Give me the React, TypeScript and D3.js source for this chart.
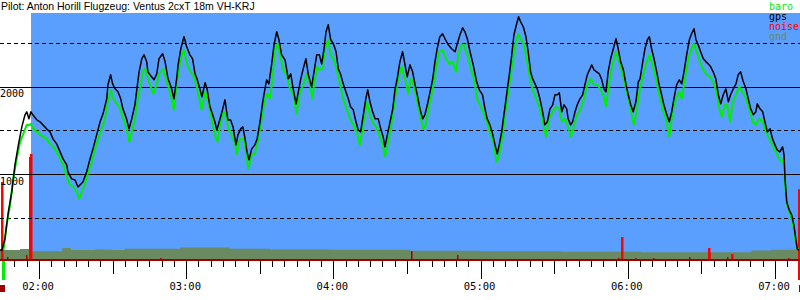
import React from "react";
import * as d3 from "d3";

// ---- data (time in minutes since midnight, altitude in metres) ----
const title = "Pilot: Anton Horill Flugzeug: Ventus 2cxT 18m VH-KRJ";
const legendLabels = ["baro", "gps", "noise", "gnd"];
const yLabelValues = [1000, 2000];
const solidGrid = [1000, 2000];
const dashedGrid = [500, 1500, 2500];
const hourLabels = ["02:00", "03:00", "04:00", "05:00", "06:00", "07:00"];
const hourTimes = [120, 180, 240, 300, 360, 420];
const timeStart = 104.1;
const timeEnd = 430.2;
const engineOffTime = 116.7;
const recordStart = 104.1;
const recordEnd = 429.9;
const takeoffTime = 105.5;
const landingTime = 429.7;

const gps: [number, number][] = [[104.1,136],[104.9,136],[106.1,263],[107.5,571],[108.9,799],[110.2,1107],[111.6,1336],[113.0,1541],[114.3,1679],[115.0,1713],[115.9,1633],[116.7,1713],[117.5,1679],[119.1,1621],[120.4,1599],[121.6,1564],[123.1,1519],[124.5,1484],[125.7,1404],[127.2,1347],[128.6,1256],[129.8,1176],[131.3,1107],[131.8,1027],[133.3,948],[134.7,936],[135.9,856],[136.7,879],[137.9,913],[139.4,1027],[140.8,1176],[142.0,1290],[143.5,1450],[144.9,1599],[146.1,1690],[147.6,1861],[148.1,2021],[149.2,2135],[150.0,2032],[151.0,1975],[152.2,1941],[153.3,1861],[154.2,1747],[155.7,1633],[156.7,1519],[157.8,1633],[159.1,1793],[159.9,1975],[160.8,2169],[161.9,2318],[162.8,2363],[163.9,2283],[164.4,2169],[165.9,2112],[166.9,2078],[168.0,2146],[168.9,2318],[170.4,2375],[171.4,2283],[172.6,2089],[174.1,1975],[175.0,1861],[176.1,2089],[176.7,2249],[177.8,2432],[179.1,2569],[180.2,2455],[181.5,2363],[182.6,2318],[183.6,2146],[184.4,2089],[185.6,1975],[186.4,1884],[187.7,2044],[188.5,1975],[189.7,1770],[190.8,1679],[191.7,1599],[192.5,1507],[193.8,1633],[194.9,1747],[195.8,1850],[196.5,1713],[197.0,1621],[198.1,1621],[199.1,1541],[200.3,1336],[201.1,1450],[202.2,1519],[203.1,1541],[204.0,1404],[204.8,1256],[205.6,1165],[206.7,1290],[208.0,1336],[208.9,1404],[210.1,1599],[211.2,1827],[212.1,1975],[212.8,2078],[213.7,2032],[214.8,2249],[215.8,2478],[216.9,2626],[217.8,2535],[218.9,2363],[220.3,2306],[221.6,2089],[222.6,2146],[223.7,1964],[224.8,1804],[225.7,1941],[226.7,2089],[227.7,2203],[228.8,2318],[229.8,2135],[231.1,1998],[232.1,2169],[233.2,2363],[234.3,2363],[235.2,2260],[236.2,2432],[237.0,2626],[237.9,2705],[238.9,2535],[240.0,2489],[241.1,2398],[242.0,2203],[243.0,2135],[244.0,2032],[245.1,1941],[246.1,1861],[247.0,1770],[248.1,1736],[249.2,1599],[250.1,1507],[251.1,1484],[252.2,1679],[253.2,1861],[254.0,1964],[254.9,1827],[256.0,1713],[257.0,1633],[258.3,1633],[259.3,1519],[260.3,1427],[261.0,1313],[262.0,1450],[263.1,1599],[264.2,1747],[265.1,1964],[266.0,2089],[267.1,2283],[268.2,2398],[269.2,2249],[270.1,2112],[271.2,2249],[272.3,2169],[273.3,2021],[274.2,1907],[275.3,1747],[276.4,1633],[277.3,1679],[278.3,1793],[279.4,1941],[280.5,2089],[281.4,2283],[282.3,2432],[283.4,2569],[284.5,2603],[285.5,2546],[286.8,2478],[288.2,2432],[289.6,2398],[290.5,2489],[291.6,2592],[292.7,2671],[293.6,2626],[294.6,2546],[295.7,2398],[297.0,2249],[298.4,2055],[299.5,1964],[300.8,1907],[301.8,1747],[302.7,1633],[303.8,1564],[304.9,1462],[305.9,1336],[306.8,1233],[307.6,1336],[308.6,1484],[309.5,1679],[310.6,1907],[311.7,2135],[312.7,2363],[313.6,2592],[314.7,2717],[315.5,2797],[316.3,2740],[317.4,2683],[318.5,2569],[319.4,2398],[320.4,2169],[321.2,2089],[322.2,2032],[323.1,1975],[324.2,1861],[325.3,1713],[326.2,1564],[327.2,1599],[328.3,1747],[329.4,1793],[330.3,1907],[331.3,1907],[332.1,1930],[333.1,1713],[334.0,1793],[335.1,1747],[335.7,1633],[336.7,1564],[337.5,1599],[338.5,1713],[339.4,1793],[340.5,1861],[341.6,1907],[342.5,2021],[343.5,2135],[344.6,2203],[345.3,2249],[346.2,2192],[347.3,2169],[348.4,2146],[349.4,2078],[350.3,1975],[351.1,1941],[352.0,2169],[353.0,2318],[354.1,2432],[355.2,2546],[356.1,2432],[357.1,2283],[358.2,2192],[359.3,2021],[360.2,1907],[361.2,1793],[362.2,1713],[363.3,1827],[364.3,2055],[365.0,2089],[366.1,2283],[367.0,2432],[368.0,2535],[368.8,2569],[369.7,2432],[370.7,2318],[371.8,2169],[372.8,2021],[373.8,1907],[374.7,1793],[375.8,1690],[376.9,1599],[377.9,1713],[378.8,1861],[379.9,2021],[381.0,2078],[382.0,2032],[382.9,2169],[384.0,2363],[385.1,2535],[386.0,2603],[387.0,2660],[387.8,2535],[388.7,2478],[389.7,2398],[390.8,2318],[391.9,2283],[392.8,2260],[393.8,2226],[394.8,2169],[395.9,2089],[396.9,1907],[397.9,1804],[398.9,1907],[400.0,1975],[401.0,1827],[401.9,1907],[403.0,1975],[404.1,2032],[405.0,2135],[406.0,2169],[407.1,2055],[408.2,1975],[409.1,1861],[410.1,1747],[411.2,1679],[412.2,1713],[412.8,1804],[413.9,1747],[415.0,1713],[415.9,1599],[416.9,1484],[418.0,1519],[419.0,1404],[420.0,1336],[420.9,1279],[422.0,1256],[423.1,1313],[423.7,1222],[424.1,948],[424.8,685],[425.8,594],[426.8,537],[427.7,423],[428.5,263],[429.1,148],[429.7,136]];

const baro: [number, number][] = [[105.5,136],[106.8,423],[108.2,651],[109.5,948],[110.9,1176],[112.3,1370],[113.6,1462],[115.0,1564],[116.0,1564],[116.7,1576],[117.7,1519],[119.1,1484],[120.4,1450],[121.8,1427],[123.1,1404],[124.5,1347],[125.8,1313],[127.2,1256],[128.6,1176],[129.9,1107],[131.3,970],[132.6,879],[134.0,856],[135.4,799],[136.3,719],[137.4,799],[138.7,891],[140.1,1027],[141.5,1142],[142.8,1290],[144.2,1404],[145.5,1519],[146.9,1633],[148.2,1861],[149.2,1964],[150.3,1861],[151.7,1804],[153.0,1747],[154.4,1633],[155.7,1519],[156.8,1370],[157.8,1484],[159.1,1633],[160.1,1827],[161.2,1975],[162.3,2169],[163.2,2203],[164.1,2135],[165.2,2021],[166.6,1918],[168.0,2032],[169.0,2146],[170.7,2203],[172.0,2055],[173.4,1941],[175.0,1736],[176.4,2089],[177.8,2318],[179.1,2420],[180.4,2249],[181.8,2169],[183.2,2112],[184.5,1975],[186.3,1736],[187.7,1941],[189.0,1827],[190.4,1633],[191.7,1450],[192.7,1370],[193.8,1564],[195.1,1713],[196.2,1679],[197.2,1519],[198.5,1450],[199.9,1347],[200.6,1222],[201.9,1404],[203.3,1404],[204.4,1256],[205.3,1062],[206.7,1222],[208.0,1233],[209.4,1404],[210.8,1633],[212.1,1861],[213.1,1918],[214.2,1861],[215.3,2135],[216.2,2432],[217.2,2489],[218.2,2363],[219.6,2192],[221.0,2135],[222.3,1975],[223.7,1907],[225.0,1690],[226.4,1941],[227.7,2021],[229.1,2146],[230.2,2055],[231.4,1861],[232.5,2089],[233.4,2226],[234.3,2192],[235.6,2203],[236.6,2432],[237.9,2535],[238.9,2363],[240.0,2318],[241.3,2203],[242.7,2021],[244.0,1861],[245.4,1747],[246.8,1633],[248.1,1564],[249.5,1484],[250.8,1336],[252.2,1564],[253.6,1827],[254.9,1679],[256.3,1576],[257.6,1541],[259.0,1427],[260.1,1336],[261.0,1199],[262.4,1370],[263.8,1599],[265.1,1861],[266.4,2089],[267.8,2226],[269.2,2089],[270.5,1918],[271.5,2089],[272.6,2032],[273.9,1861],[275.3,1679],[276.6,1519],[277.7,1564],[279.1,1793],[280.5,1975],[281.8,2203],[283.2,2398],[284.5,2420],[285.9,2318],[287.2,2260],[288.6,2283],[290.0,2169],[290.9,2363],[292.3,2478],[293.2,2478],[294.6,2363],[296.0,2203],[297.3,2089],[298.6,1861],[299.5,1804],[301.1,1713],[302.5,1599],[303.8,1484],[305.2,1370],[306.5,1142],[307.6,1222],[309.0,1450],[310.3,1747],[311.7,2021],[313.1,2283],[314.4,2512],[315.4,2603],[316.3,2546],[317.7,2478],[319.0,2283],[320.4,2055],[321.5,1941],[322.9,1850],[324.2,1747],[325.6,1564],[326.7,1427],[328.0,1633],[329.4,1713],[330.7,1770],[332.1,1747],[333.1,1599],[334.4,1633],[335.7,1541],[336.8,1427],[338.1,1564],[339.4,1679],[340.8,1747],[342.1,1861],[343.5,2021],[344.9,2089],[346.2,2021],[347.6,2021],[348.9,1964],[350.3,1884],[351.1,1770],[352.5,2055],[353.8,2249],[355.2,2398],[356.5,2283],[357.9,2135],[359.3,1975],[360.6,1827],[361.6,1679],[362.5,1564],[363.6,1713],[364.7,1941],[366.3,2135],[367.7,2283],[368.8,2363],[370.1,2249],[371.5,2089],[372.8,1907],[374.2,1747],[375.6,1633],[376.9,1427],[378.3,1713],[379.6,1861],[381.0,1941],[382.0,1861],[383.3,2089],[384.7,2318],[386.0,2432],[387.0,2489],[388.1,2398],[389.4,2283],[390.8,2192],[392.1,2135],[393.5,2112],[394.8,2055],[396.2,1941],[397.3,1747],[398.3,1656],[399.6,1793],[400.5,1793],[401.7,1599],[402.8,1827],[404.1,1907],[405.4,1998],[406.8,1941],[408.2,1861],[409.5,1747],[410.9,1599],[412.2,1564],[413.6,1633],[415.0,1599],[416.3,1484],[417.7,1404],[419.0,1336],[420.4,1256],[421.7,1176],[422.7,1142],[423.4,1176],[424.1,913],[424.8,663],[425.8,571],[426.8,491],[427.7,377],[428.5,228],[429.4,136]];

const gnd: [number, number][] = [[104.1,136],[112.3,147],[116.0,124],[128.6,124],[129.5,159],[132.6,159],[133.0,136],[142.8,144],[149.5,136],[155.0,150],[177.5,166],[197.8,150],[214.2,144],[238.6,144],[239.0,140],[271.2,128],[300.0,122],[332.8,116],[365.5,110],[410.5,130],[418.5,140],[430.2,140]];

const noise: [number, number][] = [[105.1,912],[116.2,1198],[116.8,1232],[357.6,284],[393.0,160],[402.6,90],[429.7,830]];
const noiseWeak: [number, number][] = [[104.5,56],[107.1,56],[114.7,79],[169.3,45],[271.7,124],[290.5,79],[356.1,45],[362.9,45],[370.4,45],[385.1,56],[393.3,100],[400.5,56],[425.2,45]];

const tickTimes = d3.range(105, 431, 5);

// ---- styles ----
const MONO = "'DejaVu Sans Mono', monospace";
const SANS = "'Liberation Sans', Arial, sans-serif";
const BLUE = "#5a9ffd";
const GREEN = "#00ee00";
const RED = "#ff0000";
const DARKRED = "#a00000";
const GND = "#6a8a62";
const legendColors = [GREEN, "#000000", RED, GND];

export default function App() {
  const W = 800, H = 300;
  const plotTop = 13, plotBottom = 260;
  const x = d3.scaleLinear().domain([timeStart, timeEnd]).range([0, W]);
  const y = d3.scaleLinear().domain([0, 2840]).range([262, plotTop]);

  const line = d3.line<[number, number]>().x(d => x(d[0])).y(d => y(d[1]));
  const area = d3.area<[number, number]>()
    .x(d => x(d[0])).y0(plotBottom).y1(d => y(d[1]))
    .curve(d3.curveStepAfter);

  const snap = (v: number) => Math.round(v) + 0.5;

  return (
    <svg width={W} height={H} style={{ position: "fixed", left: 0, top: 0, background: "#fff" }}>
      <rect x={0} y={0} width={W} height={H} fill="#fff" />
      {/* flight region background */}
      <rect x={Math.round(x(engineOffTime))} y={plotTop} width={W - Math.round(x(engineOffTime))} height={plotBottom - plotTop} fill={BLUE} />
      {/* ground */}
      <path d={area(gnd) || ""} fill={GND} />
      {/* noise bars */}
      {noiseWeak.map((d, i) => (
        <rect key={"nw" + i} x={Math.round(x(d[0]))} y={y(d[1])} width={1.5} height={plotBottom - y(d[1])} fill={DARKRED} />
      ))}
      {noise.map((d, i) => (
        <rect key={"n" + i} x={Math.round(x(d[0])) - 1} y={y(d[1])} width={2.5} height={plotBottom - y(d[1])} fill={RED} />
      ))}
      {/* grid */}
      {dashedGrid.map(v => (
        <line key={"dg" + v} x1={0} x2={W} y1={snap(y(v))} y2={snap(y(v))} stroke="#000" strokeWidth={1} strokeDasharray="4,3" shapeRendering="crispEdges" />
      ))}
      {solidGrid.map(v => (
        <line key={"sg" + v} x1={0} x2={W} y1={snap(y(v))} y2={snap(y(v))} stroke="#000" strokeWidth={1} shapeRendering="crispEdges" />
      ))}
      {yLabelValues.map(v => (
        <text key={"yl" + v} x={0} y={y(v) + 10.5} fontFamily={MONO} fontSize={10} fill="#000">{String(v)}</text>
      ))}
      {/* series */}
      <path d={line(baro) || ""} fill="none" stroke={GREEN} strokeWidth={2} strokeLinejoin="round" />
      <path d={line(gps) || ""} fill="none" stroke="#000" strokeWidth={1.5} strokeLinejoin="round" />
      {/* x axis */}
      <rect x={0} y={plotBottom - 1} width={W} height={2} fill={DARKRED} />
      {tickTimes.map(t => {
        const len = t % 60 === 0 ? 18 : t % 30 === 0 ? 13 : 6;
        return <line key={"t" + t} x1={snap(x(t))} x2={snap(x(t))} y1={plotBottom + 1} y2={plotBottom + 1 + len} stroke="#000" strokeWidth={1} shapeRendering="crispEdges" />;
      })}
      {hourTimes.map((t, i) => (
        <text key={"h" + t} x={x(t) - 1} y={290} textAnchor="middle" fontFamily={MONO} fontSize={10.5} fill="#000">{hourLabels[i]}</text>
      ))}
      {/* takeoff / landing markers */}
      <rect x={Math.round(x(takeoffTime)) - 1} y={plotBottom + 1} width={3} height={19} fill={GREEN} />
      <rect x={Math.round(x(landingTime)) - 1} y={plotBottom + 1} width={2.5} height={19} fill={RED} />
      <rect x={Math.round(x(recordStart))} y={285} width={5} height={7} fill={DARKRED} />
      <rect x={Math.round(x(recordEnd))} y={285} width={5} height={7} fill={DARKRED} />
      {/* title */}
      <text x={1} y={9.5} fontFamily={SANS} fontSize={10.5} fill="#000">{title}</text>
      {/* legend */}
      {legendLabels.map((l, i) => (
        <text key={"lg" + l} x={769} y={9.5 + i * 10.2} fontFamily={MONO} fontSize={10} fill={legendColors[i]}>{l}</text>
      ))}
    </svg>
  );
}
